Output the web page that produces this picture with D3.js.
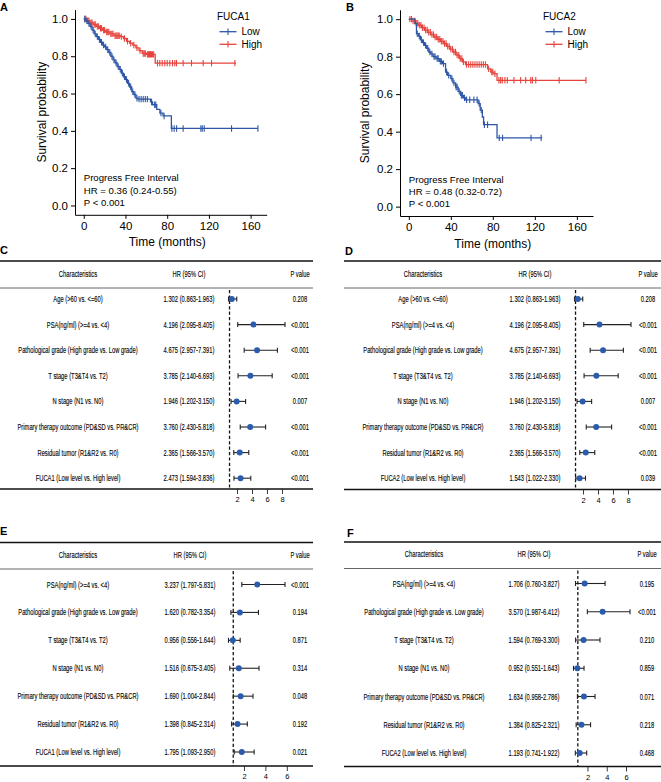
<!DOCTYPE html>
<html><head><meta charset="utf-8">
<script src="https://cdn.jsdelivr.net/npm/d3@7"></script>
<style>body{margin:0;background:#fff}svg{display:block}text{font-family:"Liberation Sans",Arial,Helvetica,sans-serif;fill:#000}</style>
</head><body><svg id="chart" width="661" height="782"></svg>
<script>
// ---------- Kaplan-Meier data ----------
const kmTicksX = [0, 40, 80, 120, 160];
const kmTicksY = [0, 0.2, 0.4, 0.6, 0.8, 1.0];

// [time, survival after step]
const aLowSteps = [[0,1],[2,0.99],[4,0.975],[6,0.96],[8,0.94],[10,0.92],[12,0.905],[14,0.89],[16,0.875],[18,0.86],[20,0.85],[22,0.835],[24,0.82],[26,0.80],[28,0.78],[30,0.765],[32,0.745],[34,0.73],[36,0.71],[38,0.69],[40,0.675],[42,0.655],[44,0.635],[46,0.61],[48,0.595],[50,0.575],[52,0.57],[64,0.555],[66,0.54],[70,0.515],[73,0.495],[76,0.48],[84,0.413]];
const aLowEnd = 167;
const aLowCens = [1,3,5,7,9,11,13,15,17,19,21,23,25,27,29,31,33,35,37,39,41,43,45,47,49,51,53,55,57,59,61,65,68,69,74,77,84.5,86.7,89,95.3,112.3,113.6,115.5,141.7,167];
const aHighSteps = [[0,1],[3,0.99],[6,0.98],[9,0.97],[12,0.96],[15,0.95],[18,0.94],[21,0.93],[25,0.92],[29,0.91],[35,0.905],[38,0.895],[41,0.88],[44,0.87],[47,0.86],[50,0.845],[53,0.83],[56,0.815],[60,0.81],[68.5,0.763]];
const aHighEnd = 146;
const aHighCens = [1,2,4,5,7,8,10,11,13,14,16,17,19,20,22,23,24,26,27,28,30,31,32,33,34,36,39,42,45,48,51,54,57,58,59,61,62,63,64,65,66,67,70.7,72.9,75.2,77.7,80,82.5,85.1,87.3,88.9,95.3,103.3,114.5,122.5,144.9];

const bLowSteps = [[0,1],[6,0.977],[7.3,0.923],[9,0.91],[11,0.89],[13,0.875],[15,0.86],[17,0.845],[19,0.825],[21,0.815],[23,0.80],[26,0.79],[29,0.775],[32,0.763],[35,0.718],[37,0.70],[40,0.683],[42,0.66],[44.6,0.638],[47,0.615],[49.4,0.594],[52,0.58],[54,0.57],[66,0.55],[68,0.515],[70,0.478],[71.2,0.437],[84,0.367]];
const bLowEnd = 127;
const bLowCens = [8,10,12,14,16,18,20,22,24,25,27,28,30,31,33,36,38,41,43,45,46,48,50,51,53,55,58,62,65,67,69,72,75,86.1,89.3,116.4,126];
const bHighSteps = [[0,1],[3,0.99],[6,0.978],[9,0.968],[12,0.955],[15,0.942],[18,0.93],[21,0.918],[24,0.905],[27,0.893],[30,0.882],[33,0.87],[36,0.855],[39,0.84],[42,0.825],[45,0.808],[48,0.79],[51,0.772],[54,0.758],[75,0.735],[78,0.718],[81,0.709],[84,0.674]];
const bHighEnd = 168.7;
const bHighCens = [1,2.5,4,5.5,7,8.5,10,11.5,13,14.5,16,17.5,19,20.5,22,23.5,25,26.5,28,29.5,31,32.5,34,35.5,37,38.5,40,41.5,43,44.5,46,47.5,49,50.5,52,55,57,59,61,63,65,67,69,71,73,76,79,80,82,85.8,87.4,89,91.5,93.8,100.1,106.5,111.3,116.1,117.7,120.9,143.2,168.7];

// ---------- Forest data ----------
const labelsCD = ["Age (>60 vs. <=60)","PSA(ng/ml) (>=4 vs. <4)","Pathological grade (High grade vs. Low grade)","T stage (T3&T4 vs. T2)","N stage (N1 vs. N0)","Primary therapy outcome (PD&SD vs. PR&CR)","Residual tumor (R1&R2 vs. R0)"];
const labelsEF = ["PSA(ng/ml) (>=4 vs. <4)","Pathological grade (High grade vs. Low grade)","T stage (T3&T4 vs. T2)","N stage (N1 vs. N0)","Primary therapy outcome (PD&SD vs. PR&CR)","Residual tumor (R1&R2 vs. R0)"];

const cHR = [1.302,4.196,4.675,3.785,1.946,3.760,2.365,2.473];
const cLo = [0.863,2.095,2.957,2.140,1.202,2.430,1.566,1.594];
const cHi = [1.963,8.405,7.391,6.693,3.150,5.818,3.570,3.836];
const cP  = ["0.208","<0.001","<0.001","<0.001","0.007","<0.001","<0.001","<0.001"];

const dHR = [1.302,4.196,4.675,3.785,1.946,3.760,2.365,1.543];
const dLo = [0.863,2.095,2.957,2.140,1.202,2.430,1.566,1.022];
const dHi = [1.963,8.405,7.391,6.693,3.150,5.818,3.570,2.330];
const dP  = ["0.208","<0.001","<0.001","<0.001","0.007","<0.001","<0.001","0.039"];

const eHR = [3.237,1.620,0.956,1.516,1.690,1.398,1.795];
const eLo = [1.797,0.782,0.556,0.675,1.004,0.845,1.093];
const eHi = [5.831,3.354,1.644,3.405,2.844,2.314,2.950];
const eP  = ["<0.001","0.194","0.871","0.314","0.048","0.192","0.021"];

const fHR = [1.706,3.570,1.594,0.952,1.634,1.384,1.193];
const fLo = [0.760,1.987,0.769,0.551,0.958,0.825,0.741];
const fHi = [3.827,6.412,3.300,1.643,2.786,2.321,1.922];
const fP  = ["0.195","<0.001","0.210","0.859","0.071","0.218","0.468"];

const ticksCD = [2,4,6,8];
const ticksEF = [2,4,6];

const BLUE = "#2D56A6", RED = "#E6433C", DOT = "#2A5BAD";
const svg = d3.select("#chart");

// ---------- KM panel ----------
function survAt(steps, t){ let s = 1; for (const [tt, ss] of steps) if (tt <= t) s = ss; return s; }

function drawKM(o){
  const g = svg.append("g");
  const x = d3.scaleLinear().domain([-8.4, 175.4]).range(o.xr);
  const y = d3.scaleLinear().domain([-0.05, 1.05]).range(o.yr);
  const ax = g.append("g").attr("transform", `translate(0,${o.yr[0]})`)
    .call(d3.axisBottom(x).tickValues(kmTicksX).tickSize(4).tickSizeOuter(0).tickPadding(3));
  const ay = g.append("g").attr("transform", `translate(${o.xr[0]},0)`)
    .call(d3.axisLeft(y).tickValues(kmTicksY).tickFormat(d3.format(".1f")).tickSize(4).tickSizeOuter(0).tickPadding(3));
  [ax, ay].forEach(a => {
    a.selectAll("path,line").attr("stroke", "#000").attr("stroke-width", 1);
    a.selectAll("text").attr("font-size", 11.5).attr("fill", "#2a2a2a").attr("font-family", "Liberation Sans, Arial, sans-serif");
  });
  g.append("text").attr("transform", `translate(${o.ylabX},${(o.yr[0]+o.yr[1])/2}) rotate(-90)`)
    .attr("text-anchor","middle").attr("dominant-baseline","central").attr("font-size",12).text("Survival probability");
  g.append("text").attr("x", (x(0)+x(160))/2).attr("y", o.xlabY).attr("text-anchor","middle")
    .attr("dominant-baseline","central").attr("font-size",12).text("Time (months)");

  const line = d3.line().x(d => x(d[0])).y(d => y(d[1])).curve(d3.curveStepAfter);
  o.curves.forEach(c => {
    const pts = c.steps.concat([[c.end, c.steps[c.steps.length-1][1]]]);
    g.append("path").attr("d", line(pts)).attr("fill","none").attr("stroke", c.color).attr("stroke-width", 1.3);
    g.selectAll(null).data(c.cens).enter().append("line")
      .attr("x1", d => x(d)).attr("x2", d => x(d))
      .attr("y1", d => y(survAt(c.steps, d)) - 3.2).attr("y2", d => y(survAt(c.steps, d)) + 3.2)
      .attr("stroke", c.color).attr("stroke-width", 1.1);
  });

  // legend
  const L = o.legend;
  g.append("text").attr("x", L.x).attr("y", L.y).attr("dominant-baseline","central").attr("font-size",10).text(L.title);
  [["Low", BLUE], ["High", RED]].forEach((it, i) => {
    const yy = L.y + 15 + i*12.6;
    g.append("line").attr("x1", L.x+2.5).attr("x2", L.x+19.5).attr("y1", yy).attr("y2", yy).attr("stroke", it[1]).attr("stroke-width", 1.3);
    g.append("line").attr("x1", L.x+11).attr("x2", L.x+11).attr("y1", yy-3.2).attr("y2", yy+3.2).attr("stroke", it[1]).attr("stroke-width", 1.1);
    g.append("text").attr("x", L.x+24.5).attr("y", yy).attr("dominant-baseline","central").attr("font-size",10).text(it[0]);
  });
  // annotation
  o.notes.forEach((t, i) => {
    g.append("text").attr("x", x(0)).attr("y", o.noteY + i*12.2).attr("dominant-baseline","central")
      .attr("font-size", 9.6).attr("fill","#1a1a1a").text(t);
  });
}

drawKM({xr:[75,266.7], yr:[214.8,9.6], ylabX:42, xlabY:242,
  curves:[{steps:aHighSteps,end:aHighEnd,cens:aHighCens,color:RED},{steps:aLowSteps,end:aLowEnd,cens:aLowCens,color:BLUE}],
  legend:{x:217,y:16.7,title:"FUCA1"},
  notes:["Progress Free Interval","HR = 0.36 (0.24-0.55)","P < 0.001"], noteY:177.8});
drawKM({xr:[400,593], yr:[216,9.8], ylabX:365, xlabY:244,
  curves:[{steps:bHighSteps,end:bHighEnd,cens:bHighCens,color:RED},{steps:bLowSteps,end:bLowEnd,cens:bLowCens,color:BLUE}],
  legend:{x:543,y:16.7,title:"FUCA2"},
  notes:["Progress Free Interval","HR = 0.48 (0.32-0.72)","P < 0.001"], noteY:179.3});

// ---------- Forest panel ----------
const SX = 0.585;
function ctext(g, x, y, t, fs){
  g.append("text").attr("transform", `translate(${x},${y}) scale(${SX},1)`).attr("text-anchor","middle")
    .attr("dominant-baseline","central").attr("font-size", fs || 9.9).attr("fill","#111")
    .attr("stroke","#111").attr("stroke-width",0.15).text(t);
}
function drawForest(o){
  const g = svg.append("g");
  const n = o.labels.length;
  const yS = d3.scalePoint().domain(d3.range(n)).range(o.rows);
  const x = d3.scaleLinear().domain([d3.min(o.lo), d3.max(o.hi)]).range(o.plot);
  g.append("line").attr("x1", o.line[0]).attr("x2", o.line[1]).attr("y1", o.top).attr("y2", o.top).attr("stroke","#111").attr("stroke-width",1.4);
  g.append("line").attr("x1", o.line[0]).attr("x2", o.line[1]).attr("y1", o.hdrLine).attr("y2", o.hdrLine).attr("stroke","#555").attr("stroke-width",0.9);
  g.append("line").attr("x1", o.line[0]).attr("x2", o.line[1]).attr("y1", o.bottom).attr("y2", o.bottom).attr("stroke","#111").attr("stroke-width",1.4);
  ctext(g, o.cx[0], o.hdrY, "Characteristics");
  ctext(g, o.cx[1], o.hdrY, "HR (95% CI)");
  ctext(g, o.cx[2], o.hdrY, "P value");
  // reference line at HR = 1
  g.append("line").attr("x1", x(1)).attr("x2", x(1)).attr("y1", o.hdrLine+2).attr("y2", o.bottom)
    .attr("stroke","#111").attr("stroke-width",1.3).attr("stroke-dasharray","3.2,2.2");
  const f = d3.format(".3f");
  for (let i = 0; i < n; i++){
    const yy = yS(i);
    ctext(g, o.cx[0], yy, o.labels[i]);
    ctext(g, o.cx[1], yy, `${f(o.hr[i])} (${f(o.lo[i])}-${f(o.hi[i])})`);
    ctext(g, o.cx[2], yy, o.p[i]);
    g.append("line").attr("x1", x(o.lo[i])).attr("x2", x(o.hi[i])).attr("y1", yy).attr("y2", yy).attr("stroke","#222").attr("stroke-width",1.1);
    [o.lo[i], o.hi[i]].forEach(v => g.append("line").attr("x1", x(v)).attr("x2", x(v)).attr("y1", yy-2.5).attr("y2", yy+2.5).attr("stroke","#222").attr("stroke-width",1.1));
    g.append("circle").attr("cx", x(o.hr[i])).attr("cy", yy).attr("r", 3).attr("fill", DOT);
  }
  const ax = g.append("g").attr("transform", `translate(0,${o.bottom})`)
    .call(d3.axisBottom(x).tickValues(o.ticks).tickSize(5).tickSizeOuter(0).tickPadding(3).tickFormat(d3.format("d")));
  ax.select(".domain").remove();
  ax.selectAll("line").attr("stroke","#222").attr("stroke-width",0.9);
  ax.selectAll("text").attr("font-size", 7.5).attr("fill","#222").attr("font-family","Liberation Sans, Arial, sans-serif")
    .attr("transform","scale(0.8,1)").attr("x", function(){ return 0; });
  ax.selectAll(".tick text").attr("transform", null);
  g.append("text").attr("x", o.letter[0]).attr("y", o.letter[1]).attr("font-size", 11).attr("font-weight","bold").text(o.letterText);
}

drawForest({labels: labelsCD.concat(["FUCA1 (Low level vs. High level)"]), hr:cHR, lo:cLo, hi:cHi, p:cP,
  rows:[299,478.2], plot:[228.5,285], line:[0,313], top:261, hdrY:274, hdrLine:288, bottom:489,
  cx:[78,189,300], ticks:ticksCD, letter:[0,253.5], letterText:"C"});
drawForest({labels: labelsCD.concat(["FUCA2 (Low level vs. High level)"]), hr:dHR, lo:dLo, hi:dHi, p:dP,
  rows:[299,478.2], plot:[574.5,631], line:[344,661], top:261, hdrY:274, hdrLine:288, bottom:489.5,
  cx:[423,535,648], ticks:ticksCD, letter:[345,255], letterText:"D"});
drawForest({labels: labelsEF.concat(["FUCA1 (Low level vs. High level)"]), hr:eHR, lo:eLo, hi:eHi, p:eP,
  rows:[584.5,752], plot:[228.5,285], line:[0,313], top:542.5, hdrY:555, hdrLine:569, bottom:766,
  cx:[78,190,300], ticks:ticksEF, letter:[0,535], letterText:"E"});
drawForest({labels: labelsEF.concat(["FUCA2 (Low level vs. High level)"]), hr:fHR, lo:fLo, hi:fHi, p:fP,
  rows:[583.5,753], plot:[573.5,630], line:[344,661], top:542, hdrY:554, hdrLine:568.5, bottom:766.5,
  cx:[424,534,647], ticks:ticksEF, letter:[347,537], letterText:"F"});

// KM panel letters
svg.append("text").attr("x",0).attr("y",11).attr("font-size",11).attr("font-weight","bold").text("A");
svg.append("text").attr("x",346).attr("y",11).attr("font-size",11).attr("font-weight","bold").text("B");
</script></body></html>
